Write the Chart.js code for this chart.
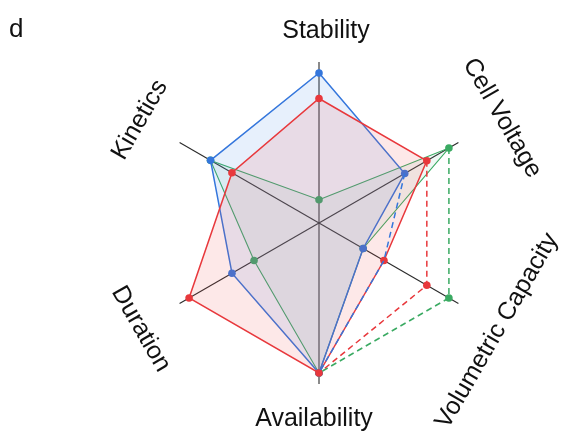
<!DOCTYPE html>
<html>
<head>
<meta charset="utf-8">
<script src="https://cdn.jsdelivr.net/npm/chart.js@4/dist/chart.umd.min.js"></script>
<style>
  html, body { margin: 0; padding: 0; background: #ffffff; }
  #wrap { width: 561px; height: 433px; position: relative; }
</style>
</head>
<body>
<div id="wrap"><canvas id="radar"></canvas></div>
<script>
// Axes, clockwise from the top
const categories = ['Stability', 'Cell Voltage', 'Volumetric Capacity', 'Availability', 'Duration', 'Kinetics'];

// Normalised scores (1 = best) for each system
const blueScores  = [1.00, 0.66, 0.34, 1.00, 0.67, 0.835];
const redScores   = [0.83, 0.83, 0.50, 1.00, 1.00, 0.67];
const greenScores = [0.155, 1.00, 0.34, 1.00, 0.50, 0.835];

// Attainable volumetric capacity (dashed outline: Cell Voltage -> Volumetric Capacity -> Availability)
const blueCapacityLimit  = [null, 0.66, 0.50, 1.00, null, null];
const redCapacityLimit   = [null, 0.83, 0.83, 1.00, null, null];
const greenCapacityLimit = [null, 1.00, 1.00, 1.00, null, null];

const BLUE = 'rgb(52,118,220)';
const RED = 'rgb(232,56,60)';
const GREEN = 'rgb(58,170,98)';

function solid(data, color, fill, order, width) {
  return {
    data, order,
    borderColor: color, backgroundColor: fill, fill: true,
    borderWidth: width,
    pointRadius: 3.8, pointBackgroundColor: color, pointBorderColor: color,
    pointBorderWidth: 0, pointHoverRadius: 3.8
  };
}
function dashed(data, color, order, showEnd) {
  return {
    data, order,
    borderColor: color, backgroundColor: 'transparent', fill: false,
    borderWidth: 1.5, borderDash: [6, 4], spanGaps: false,
    pointRadius: data.map((v, i) => (showEnd && i === 2) ? 3.8 : 0),
    pointBackgroundColor: color, pointBorderColor: color, pointBorderWidth: 0
  };
}

// Axis titles, each set perpendicular to its spoke
const titlePlugin = {
  id: 'axisTitles',
  afterDraw(chart) {
    const r = chart.scales.r;
    const ctx = chart.ctx;
    const spec = [
      { off: 31, rot: 0, dx: 7, dy: 0 },
      { off: 47, rot: Math.PI / 3, dx: 3, dy: -1 },
      { off: 47, rot: -Math.PI / 3, dx: -2, dy: 4 },
      { off: 35, rot: 0, dx: -5, dy: 0 },
      { off: 47, rot: Math.PI / 3, dx: 2, dy: 2 },
      { off: 47, rot: -Math.PI / 3, dx: 1, dy: 1 }
    ];
    ctx.save();
    ctx.fillStyle = '#111111';
    ctx.font = '25px "Liberation Sans", Arial, sans-serif';
    ctx.textAlign = 'center';
    ctx.textBaseline = 'middle';
    categories.forEach((label, i) => {
      const s = spec[i];
      const p = r.getPointPosition(i, r.drawingArea + s.off);
      ctx.save();
      ctx.translate(p.x + s.dx, p.y + s.dy);
      ctx.rotate(s.rot);
      ctx.fillText(label, 0, 0);
      ctx.restore();
    });
    ctx.textAlign = 'left';
    ctx.textBaseline = 'alphabetic';
    ctx.font = '26px "Liberation Sans", Arial, sans-serif';
    ctx.fillText('d', 9, 37);
    ctx.restore();
  }
};

new Chart(document.getElementById('radar'), {
  type: 'radar',
  data: {
    labels: categories,
    datasets: [
      dashed(redCapacityLimit, RED, 0, true),
      dashed(greenCapacityLimit, GREEN, 0, true),
      dashed(blueCapacityLimit, BLUE, 0, false),
      solid(redScores, RED, 'rgba(240,80,80,0.13)', 1, 1.5),
      solid(blueScores, BLUE, 'rgba(70,140,230,0.13)', 2, 1.5),
      solid(greenScores, GREEN, 'rgba(110,190,160,0.10)', 3, 1.1)
    ]
  },
  options: {
    responsive: true,
    maintainAspectRatio: false,
    animation: false,
    layout: { padding: { left: 158, right: 81, top: 62, bottom: 49 } },
    plugins: { legend: { display: false }, tooltip: { enabled: false } },
    elements: { line: { tension: 0 } },
    scales: {
      r: {
        min: 0,
        max: 1.0733,
        ticks: { display: false },
        grid: { display: false },
        angleLines: { display: true, color: '#2a2a2a', lineWidth: 1.1 },
        pointLabels: { display: false }
      }
    }
  },
  plugins: [titlePlugin]
});
</script>
</body>
</html>
